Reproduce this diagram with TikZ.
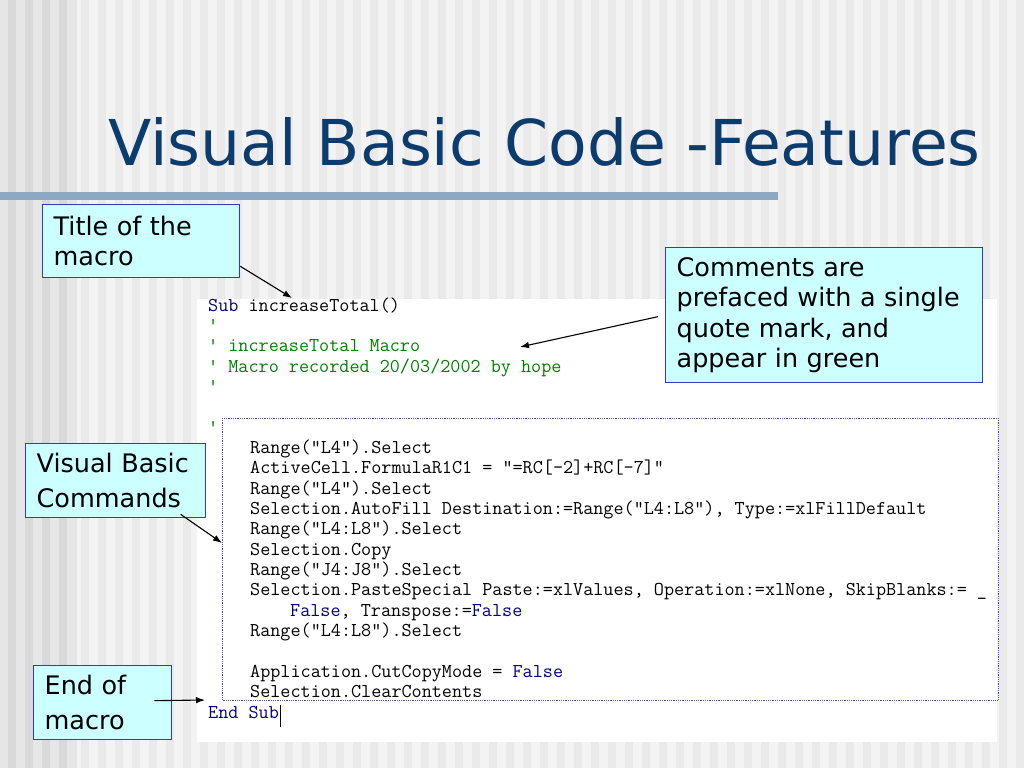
\documentclass[tikz,border=0pt]{standalone}
\usepackage{fontspec}
\setmainfont{DejaVu Sans}
\usepackage{xcolor}
\usepackage{tikz}
\usetikzlibrary{calc,arrows.meta}
\definecolor{titleblue}{HTML}{0C3B6E}
\definecolor{barblue}{HTML}{8DA8C3}
\definecolor{boxfill}{HTML}{CCFFFF}
\definecolor{boxline}{HTML}{3636C8}
\definecolor{vbblue}{HTML}{000080}
\definecolor{vbgreen}{HTML}{008000}
\definecolor{dotline}{HTML}{4848B8}
\definecolor{bgbase}{HTML}{F3F3F3}
\definecolor{bgstripe}{HTML}{EAEAEA}
\definecolor{bgmid}{HTML}{E6E6E6}
\definecolor{bgdark}{HTML}{D9D9D9}
\tikzset{
  callout/.style={draw=boxline, fill=boxfill, line width=1.3pt, anchor=north west, align=left,
    inner xsep=11pt, inner ysep=0pt, text=black, font=\fontsize{25.5}{30.5}\selectfont},
  arr/.style={draw=black, line width=1.1pt, -{Latex[length=9pt,width=6.5pt]}},
  code/.style={anchor=base west, inner sep=0pt, text=black, font=\fontsize{19.6}{20.35}\selectfont\ttfamily},
  ttl/.style={anchor=base west, inner sep=0pt, text=titleblue, font=\fontsize{63.2}{70}\selectfont},
}

\begin{document}
\begin{tikzpicture}[x=1pt,y=-1pt]
  \useasboundingbox (0,0) rectangle (1024,768);
  % striped background
  \fill[bgbase] (0,0) rectangle (1024,768);
  \fill[bgmid] (0,0) rectangle (77,768);
  \foreach \x in {0,17,...,60} \fill[bgdark] (\x+8,0) rectangle ++(8,768);
  \foreach \x in {77,94,...,1020} \fill[bgstripe] (\x+4,0) rectangle ++(8,768);

  \node[ttl] (title) at (108,165) {Visual Basic Code -Features};
  \fill[barblue] (0,192) rectangle (778,200);

  % code window
  \fill[white] (197,299) rectangle (997,742);
  \draw[dotline, densely dotted, line width=0.8pt] (222,418) rectangle (998,700);

  \node[code] (l1) at (208,311) {\textcolor{vbblue}{Sub} increaseTotal()};
  \node[code, text=vbgreen] (l2) at (208,331.35) {'};
  \node[code, text=vbgreen] (l3) at (208,351.7) {' increaseTotal Macro};
  \node[code, text=vbgreen] (l4) at (208,372.05) {' Macro recorded 20/03/2002 by hope};
  \node[code, text=vbgreen] (l5) at (208,392.4) {'};
  \node[code, text=vbgreen] (l7) at (208,433.1) {'};
  \node[code] (l8) at (250,453.45) {Range("L4").Select};
  \node[code] (l9) at (250,473.8) {ActiveCell.FormulaR1C1 = "=RC[-2]+RC[-7]"};
  \node[code] (l10) at (250,494.15) {Range("L4").Select};
  \node[code] (l11) at (250,514.5) {Selection.AutoFill Destination:=Range("L4:L8"), Type:=xlFillDefault};
  \node[code] (l12) at (250,534.85) {Range("L4:L8").Select};
  \node[code] (l13) at (250,555.2) {Selection.Copy};
  \node[code] (l14) at (250,575.55) {Range("J4:J8").Select};
  \node[code] (l15) at (250,595.9) {Selection.PasteSpecial Paste:=xlValues, Operation:=xlNone, SkipBlanks:= \_};
  \node[code] (l16) at (290,616.25) {\textcolor{vbblue}{False}, Transpose:=\textcolor{vbblue}{False}};
  \node[code] (l17) at (250,636.6) {Range("L4:L8").Select};
  \node[code] (l19) at (250,677.3) {Application.CutCopyMode = \textcolor{vbblue}{False}};
  \node[code] (l20) at (250,697.65) {Selection.ClearContents};
  \node[code, text=vbblue] (l21) at (208,718) {End Sub};
  \draw[line width=0.8pt] (280,705) -- (280,727);

  % callouts
  \node[callout, text width=175pt, minimum height=73pt] (tbox) at (42,204) {Title of the\\macro};
  \node[callout, text width=295pt, minimum height=135pt] (cbox) at (665,247)
    {Comments are\\prefaced with a single\\quote mark, and\\appear in green};
  \node[callout, text width=158pt, minimum height=74pt, font=\fontsize{25.5}{35}\selectfont] (vbox) at (25,443)
    {Visual Basic\\Commands};
  \node[callout, text width=116pt, minimum height=74pt, font=\fontsize{25.5}{35}\selectfont] (ebox) at (33,665)
    {End of\\macro};

  \coordinate (ttip) at (292,298);
  \coordinate (ctip) at (520,347);
  \coordinate (vtip) at (222,543);
  \coordinate (etip) at (205,700);
  \draw[arr] ($(tbox.south east)+(0,-12)$) -- (ttip);
  \draw[arr] ($(cbox.west)+(-7,1.5)$) -- (ctip);
  \draw[arr] ($(vbox.south)+(65,-4)$) -- (vtip);
  \draw[arr] ($(ebox.east)+(-18,-2)$) -- (etip);
\end{tikzpicture}
\end{document}
